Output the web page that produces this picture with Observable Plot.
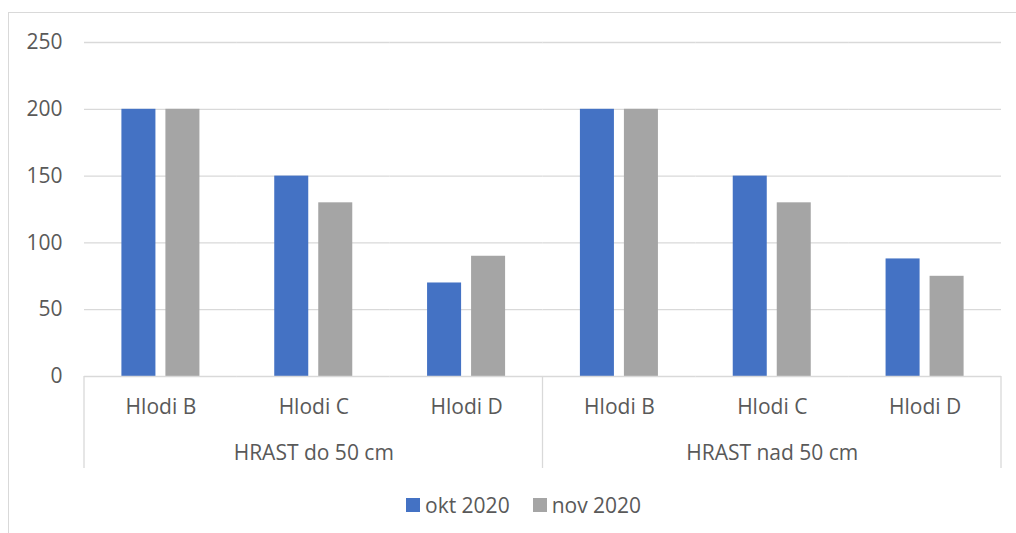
<!DOCTYPE html>
<html>
<head>
<meta charset="utf-8">
<script src="https://cdn.jsdelivr.net/npm/d3@7"></script>
<script src="https://cdn.jsdelivr.net/npm/@observablehq/plot@0.6"></script>
<style>
  html, body { margin: 0; padding: 0; background: #fff; overflow: hidden; width: 1016px; height: 533px; }
  body { position: relative; font-family: "Open Sans", sans-serif; color: #595959; }
  #frame { position: absolute; left: 8px; top: 12px; width: 1100px; height: 600px; border: 1px solid #d9d9d9; box-sizing: border-box; }
  #chart { position: absolute; left: 0; top: 0; }
  #legend { position: absolute; left: 406px; top: 490px; height: 30px; display: flex; align-items: center; font-size: 21px; color: #595959; }
  .sw { width: 14px; height: 14px; display: inline-block; margin-right: 5px; }
  .item { display: flex; align-items: center; margin-right: 23px; }
</style>
</head>
<body>
<div id="frame"></div>
<div id="chart"></div>
<div id="legend"></div>
<script>
const groups = ["HRAST do 50 cm", "HRAST nad 50 cm"];
const categories = ["Hlodi B", "Hlodi C", "Hlodi D"];
const series = ["okt 2020", "nov 2020"];
const okt = [200, 150, 70, 200, 150, 88];
const nov = [200, 130, 90, 200, 130, 75];
const yTicks = [0, 50, 100, 150, 200, 250];
const colors = ["#4472C4", "#A5A5A5"];

const keys = [];
groups.forEach(g => categories.forEach(c => keys.push(g + "|" + c)));
const rows = [];
keys.forEach((k, i) => {
  rows.push({key: k, series: series[0], value: okt[i]});
  rows.push({key: k, series: series[1], value: nov[i]});
});
const groupRows = groups.map(g => ({key: g + "|" + categories[1], group: g}));

const textColor = "#595959";
const gridColor = "#d9d9d9";
const fs = 21;

const plot = Plot.plot({
  width: 1016,
  height: 475,
  marginLeft: 84,
  marginRight: 15,
  marginTop: 42,
  marginBottom: 99,
  style: {fontFamily: "'Open Sans', sans-serif", fontSize: fs + "px", color: textColor, background: "transparent", overflow: "visible"},
  fx: {domain: keys, padding: 0, round: false},
  x: {domain: series, paddingInner: 0.227, paddingOuter: 0.85, round: false, axis: null},
  y: {domain: [0, 250]},
  color: {domain: series, range: colors},
  marks: [
    Plot.gridY(yTicks.filter(d => d > 0), {stroke: gridColor, strokeOpacity: 1, strokeWidth: 1.3}),
    Plot.axisY(yTicks, {tickSize: 0, tickPadding: 22, fontSize: fs, fill: textColor, label: null}),
    Plot.barY(rows, {fx: "key", x: "series", y: "value", fill: "series"}),
    Plot.ruleY([0], {stroke: gridColor, strokeWidth: 1.3}),
    Plot.axisFx({anchor: "bottom", tickSize: 0, tickPadding: 23, tickFormat: k => k.split("|")[1], label: null, fontSize: fs, fill: textColor}),
    Plot.text(groupRows, {fx: "key", text: "group", frameAnchor: "bottom", dy: 83, fontSize: fs, fill: textColor})
  ]
});
document.getElementById("chart").appendChild(plot);

// group separators on the category axis, placed via the plot's own scales
const fxs = plot.scale("fx");
const ys = plot.scale("y");
const y0 = ys.apply(0);
const bounds = [];
groups.forEach((g, gi) => {
  const first = g + "|" + categories[0];
  const last = g + "|" + categories[categories.length - 1];
  if (gi === 0) bounds.push(fxs.apply(first));
  bounds.push(fxs.apply(last) + fxs.bandwidth);
});
d3.select(plot).append("g")
  .selectAll("line").data(bounds).join("line")
  .attr("x1", d => d).attr("x2", d => d)
  .attr("y1", y0).attr("y2", y0 + 92)
  .attr("stroke", gridColor).attr("stroke-width", 1.3);

// legend
const legend = d3.select("#legend");
series.forEach((s, i) => {
  const it = legend.append("div").attr("class", "item");
  it.append("span").attr("class", "sw").style("background", colors[i]);
  it.append("span").text(s);
});
</script>
</body>
</html>
